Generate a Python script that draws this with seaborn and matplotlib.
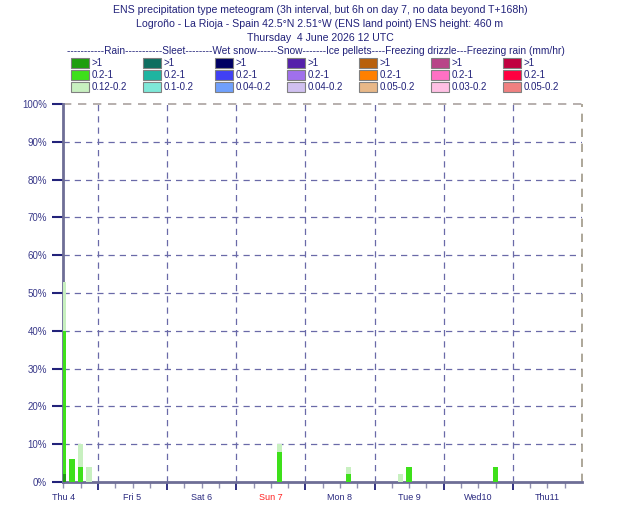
import numpy as np
import pandas as pd
import matplotlib
matplotlib.use("Agg")
import matplotlib.pyplot as plt
import seaborn as sns
from matplotlib.patches import Rectangle
from matplotlib.transforms import blended_transform_factory

# forecast steps (hours from base time), 3h up to 144h then 6h
steps = list(range(0, 145, 3)) + [150, 156, 162, 168]

# rain probabilities (%) by intensity class, at the steps that have any
rain_hours = [0, 3, 6, 9, 75, 99, 117, 120, 150]
rain_heavy = [2, 0, 0, 0, 0, 0, 0, 0, 0]        # >1 mm/hr
rain_moderate = [38, 6, 4, 0, 8, 2, 0, 4, 4]    # 0.2-1
rain_light = [13, 0, 6, 4, 2, 2, 2, 0, 0]       # 0.12-0.2

day_labels = ["Thu 4", "Fri 5", "Sat 6", "Sun 7", "Mon 8", "Tue 9", "Wed10", "Thu11"]

legend_titles = ["Rain", "Sleet", "Wet snow", "Snow", "Ice pellets",
                 "Freezing drizzle", "Freezing rain (mm/hr)"]
legend_dashes = [11, 11, 8, 6, 7, 4, 3]
legend_ranges = [
    [">1", "0.2-1", "0.12-0.2"],
    [">1", "0.2-1", "0.1-0.2"],
    [">1", "0.2-1", "0.04-0.2"],
    [">1", "0.2-1", "0.04-0.2"],
    [">1", "0.2-1", "0.05-0.2"],
    [">1", "0.2-1", "0.03-0.2"],
    [">1", "0.2-1", "0.05-0.2"],
]
legend_colors = [
    ["#1e9e0e", "#3ee01a", "#c8f0c0"],
    ["#0e6e60", "#1eb4a0", "#7ee8d8"],
    ["#000064", "#4040f4", "#70a0fc"],
    ["#5420aa", "#a070ec", "#d0c0f0"],
    ["#b8600c", "#ff8000", "#e8b888"],
    ["#b84488", "#ff70c4", "#ffc0e4"],
    ["#c00040", "#ff0040", "#f08080"],
]

NAVY = "#22227a"

sns.set_theme(style="white")
plt.rcParams["font.family"] = ["Liberation Sans", "DejaVu Sans"]

# stacked by overlaying cumulative totals, biggest first
df = pd.DataFrame({"hour": steps})
rain = pd.DataFrame({"hour": rain_hours, "heavy": rain_heavy,
                     "moderate": rain_moderate, "light": rain_light})
df = df.merge(rain, on="hour", how="left").fillna(0)
df["cum_heavy"] = df["heavy"]
df["cum_moderate"] = df["heavy"] + df["moderate"]
df["cum_light"] = df["cum_moderate"] + df["light"]

W, H = 630, 525
fig = plt.figure(figsize=(W / 100, H / 100), dpi=100)
ax = fig.add_axes([62.5 / W, 1 - 482 / H, (582 - 62.5) / W, (482 - 104) / H])

for col, c in [("cum_light", legend_colors[0][2]),
               ("cum_moderate", legend_colors[0][1]),
               ("cum_heavy", legend_colors[0][0])]:
    sns.barplot(data=df, x="hour", y=col, native_scale=True, width=0.65,
                color=c, saturation=1, errorbar=None, linewidth=0, ax=ax, zorder=3)

ax.set_xlim(-0.3, 180)
ax.set_ylim(0, 100)
ax.set_xlabel("")
ax.set_ylabel("")

# grid
for y in range(10, 100, 10):
    ax.axhline(y, color="#6a6aa8", lw=0.9, ls=(0, (5, 4)), zorder=1)
for x in range(12, 180, 24):
    ax.axvline(x, color="#6a6aa8", lw=0.9, ls=(0, (5, 4)), zorder=1)
ax.axhline(100, color="#aaa2a0", lw=1.2, ls=(0, (5, 4)), zorder=1, clip_on=False)
ax.axvline(180, color="#a09888", lw=1.2, ls=(0, (5, 4)), zorder=1, clip_on=False)

for s in ["top", "right"]:
    ax.spines[s].set_visible(False)
for s in ["left", "bottom"]:
    ax.spines[s].set_color("#6e6e96")
    ax.spines[s].set_linewidth(2)
    ax.spines[s].set_zorder(2.5)

ax.set_yticks(range(0, 101, 10))
ax.set_yticklabels([f"{v}%" for v in range(0, 101, 10)], fontsize=7, color="#3a3a8a")
ax.tick_params(axis="y", length=8, width=1.5, color=NAVY, pad=3, left=True)

ax.set_xticks(range(12, 180, 24))
ax.set_xticklabels([])
ax.set_xticks([h for h in range(0, 181, 6) if (h - 12) % 24 != 0], minor=True)
ax.tick_params(axis="x", which="major", length=6, width=1.3, color=NAVY, bottom=True)
ax.tick_params(axis="x", which="minor", length=4, width=1, color="#9090b0", bottom=True)

trans = blended_transform_factory(ax.transData, ax.transAxes)
for i, lab in enumerate(day_labels):
    ax.text(i * 24, -15 / 378, lab, transform=trans, ha="center", va="center",
            fontsize=6.5, color="#ff2020" if lab == "Sun 7" else "#2a2a80")

# titles
titles = ["ENS precipitation type meteogram (3h interval, but 6h on day 7, no data beyond T+168h)",
          "Logroño - La Rioja - Spain 42.5°N 2.51°W (ENS land point) ENS height: 460 m",
          "Thursday  4 June 2026 12 UTC"]
for t, y in zip(titles, [10, 24, 38]):
    fig.text(320 / W, 1 - y / H, t, ha="center", va="center", fontsize=7.6, color=NAVY)

# legend
header = "".join("-" * d + n for d, n in zip(legend_dashes, legend_titles))
fig.text(67 / W, 1 - 51 / H, header, ha="left", va="center", fontsize=7.3, color=NAVY)

for ci in range(7):
    x0 = 71 + 72 * ci
    for ri in range(3):
        y0 = 58 + 12 * ri
        fig.add_artist(Rectangle((x0 / W, 1 - (y0 + 10) / H), 18 / W, 10 / H,
                                 transform=fig.transFigure, facecolor=legend_colors[ci][ri],
                                 edgecolor="#808080", lw=0.8))
        fig.text((x0 + 21) / W, 1 - (y0 + 5) / H, legend_ranges[ci][ri], ha="left",
                 va="center", fontsize=7, color=NAVY)

fig.savefig("out.png", dpi=100)
